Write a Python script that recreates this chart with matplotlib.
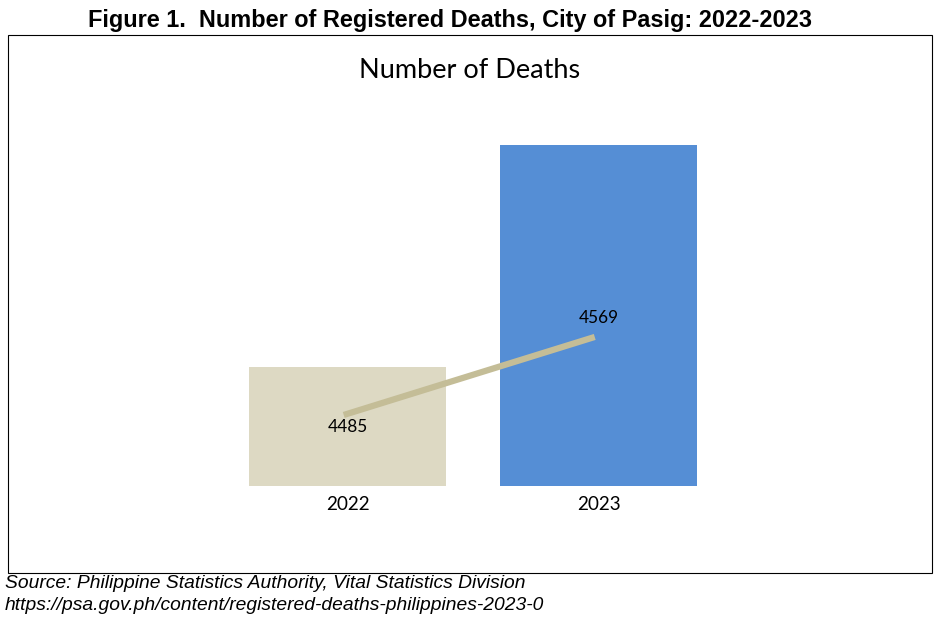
import matplotlib.pyplot as plt
from matplotlib.patches import Rectangle

years = ['2022', '2023']
deaths = [4485, 4569]
bar_colors = ['#ddd9c3', '#558ed5']
line_color = '#c4bd97'

W, H = 941, 623
fig = plt.figure(figsize=(W / 100, H / 100), dpi=100)

# outer chart frame
fig.patches.append(Rectangle((8 / W, 1 - 573 / H), 924 / W, 538 / H,
                             transform=fig.transFigure, fill=False,
                             edgecolor='black', linewidth=0.8))

fig.text(450 / W, 1 - 20 / H, 'Figure 1.  Number of Registered Deaths, City of Pasig: 2022-2023',
         ha='center', va='center', fontsize=16.9, fontweight='bold',
         family='Liberation Sans')
fig.text(470 / W, 1 - 71 / H, 'Number of Deaths', ha='center', va='center',
         fontsize=19.5, family='Lato')

ax = fig.add_axes([222 / W, 1 - 486 / H, 502 / W, 341 / H])
x = list(range(len(years)))
ax.bar(x, deaths, width=0.785, color=bar_colors)
ax.set_xlim(-0.5, 1.5)
ax.set_ylim(4440, 4569)
ax.set_xticks(x, years)
ax.tick_params(axis='x', length=0, labelsize=13.6, pad=7)
for lab in ax.get_xticklabels():
    lab.set_family('Lato')
ax.set_yticks([])
for s in ax.spines.values():
    s.set_visible(False)

ax2 = ax.twinx()
ax2.plot([v - 0.015 for v in x], deaths, color=line_color, linewidth=4.5,
         solid_capstyle='butt')
ax2.set_ylim(4408.5, 4775.7)
ax2.set_yticks([])
for s in ax2.spines.values():
    s.set_visible(False)
ax2.annotate(str(deaths[0]), (x[0], deaths[0]), xytext=(0, -8.5),
             textcoords='offset points', ha='center', va='center',
             fontsize=12.4, family='Lato')
ax2.annotate(str(deaths[1]), (x[1], deaths[1]), xytext=(0, 14),
             textcoords='offset points', ha='center', va='center',
             fontsize=12.4, family='Lato')

fig.text(5 / W, 1 - 584 / H, 'Source: Philippine Statistics Authority, Vital Statistics Division',
         ha='left', va='center', fontsize=13.9, style='italic', family='Liberation Sans')
fig.text(5 / W, 1 - 606 / H, 'https://psa.gov.ph/content/registered-deaths-philippines-2023-0',
         ha='left', va='center', fontsize=13.9, style='italic', family='Liberation Sans')

fig.savefig('out.png', dpi=100)
